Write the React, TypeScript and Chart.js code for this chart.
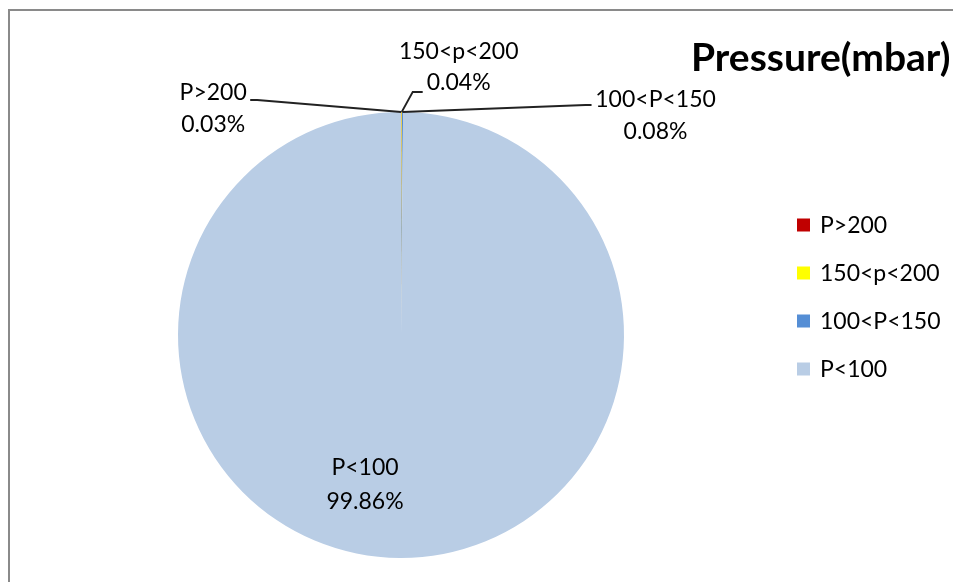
import React, { useEffect, useRef } from "react";
import { Chart, registerables } from "chart.js";

Chart.register(...registerables);

// ---- data ----
const categories = ["P>200", "150<p<200", "100<P<150", "P<100"];
const values = [0.03, 0.04, 0.08, 99.86];
const colors = ["#C00000", "#FFFF00", "#558ED5", "#B9CDE5"];
const titleText = "Pressure(mbar)";

// ---- layout / style (not data) ----
const FONT = "Lato, 'Open Sans', sans-serif";
const LABEL_SIZE = 23;
const TITLE_SIZE = 39;
const W = 953;
const H = 582;

// label placement relative to the slice anchor (outer edge at mid-angle) or pie centre
type LabelLayout = {
  ref: "edge" | "center";
  dx: number;
  dy1: number;
  dy2: number;
  leader?: [number, number][];
};
const labelLayouts: LabelLayout[] = [
  { ref: "edge", dx: -188, dy1: -19, dy2: 13, leader: [[-151, -12], [-144, -12]] },
  { ref: "edge", dx: 57, dy1: -60, dy2: -29, leader: [[21, -20], [11, -20]] },
  { ref: "edge", dx: 253, dy1: -12, dy2: 20, leader: [[189, -7], [183, -7]] },
  { ref: "center", dx: -36, dy1: 133, dy2: 167 },
];

const legendLayout = { x: 797, y0: 225, step: 48, box: 13, textX: 820 };
const titleLayout = { x: 691, y: 58 };

const overlayPlugin = {
  id: "excelOverlay",
  afterDraw(chart: any) {
    const ctx: CanvasRenderingContext2D = chart.ctx;
    const meta = chart.getDatasetMeta(0);
    ctx.save();

    // title
    ctx.fillStyle = "#000";
    ctx.font = `bold ${TITLE_SIZE}px ${FONT}`;
    ctx.textAlign = "left";
    ctx.textBaseline = "middle";
    ctx.fillText(titleText, titleLayout.x, titleLayout.y);

    // legend
    ctx.font = `${LABEL_SIZE}px ${FONT}`;
    categories.forEach((c, i) => {
      const cy = legendLayout.y0 + i * legendLayout.step;
      ctx.fillStyle = colors[i];
      ctx.fillRect(legendLayout.x, cy - legendLayout.box / 2, legendLayout.box, legendLayout.box);
      ctx.fillStyle = "#000";
      ctx.textAlign = "left";
      ctx.fillText(c, legendLayout.textX, cy + 1);
    });

    // data labels with leader lines
    meta.data.forEach((arc: any, i: number) => {
      const p = arc.getProps(["x", "y", "startAngle", "endAngle", "outerRadius"], true);
      const mid = (p.startAngle + p.endAngle) / 2;
      const lay = labelLayouts[i];
      let ax = p.x;
      let ay = p.y;
      if (lay.ref === "edge") {
        ax = p.x + Math.cos(mid) * p.outerRadius;
        ay = p.y + Math.sin(mid) * p.outerRadius;
      }
      if (lay.leader) {
        ctx.strokeStyle = "#222";
        ctx.lineWidth = 1.8;
        ctx.beginPath();
        ctx.moveTo(ax + lay.leader[0][0], ay + lay.leader[0][1]);
        for (let k = 1; k < lay.leader.length; k++) {
          ctx.lineTo(ax + lay.leader[k][0], ay + lay.leader[k][1]);
        }
        ctx.lineTo(ax, ay);
        ctx.stroke();
      }
      ctx.fillStyle = "#000";
      ctx.textAlign = "center";
      ctx.font = `${LABEL_SIZE}px ${FONT}`;
      ctx.fillText(categories[i], ax + lay.dx, ay + lay.dy1);
      ctx.fillText(values[i].toFixed(2) + "%", ax + lay.dx, ay + lay.dy2);
    });

    ctx.restore();
  },
};

export default function App() {
  const canvasRef = useRef<HTMLCanvasElement | null>(null);

  useEffect(() => {
    if (!canvasRef.current) return;
    const chart = new Chart(canvasRef.current, {
      type: "pie",
      data: {
        labels: categories,
        datasets: [
          {
            data: values,
            backgroundColor: colors,
            borderWidth: 0,
          },
        ],
      },
      options: {
        responsive: false,
        animation: false,
        layout: { padding: { left: 178, right: 329, top: 112, bottom: 24 } },
        plugins: {
          legend: { display: false },
          title: { display: false },
          tooltip: { enabled: false },
        },
      },
      plugins: [overlayPlugin],
    });
    return () => chart.destroy();
  }, []);

  return (
    <div style={{ position: "fixed", left: 0, top: 0, width: W, height: H, overflow: "hidden", background: "#fff" }}>
      <div
        style={{
          position: "absolute",
          left: 8,
          top: 9,
          width: 1000,
          height: 640,
          border: "2px solid #8a8a8a",
          boxSizing: "border-box",
        }}
      />
      <canvas
        ref={canvasRef}
        width={W}
        height={H}
        style={{ position: "absolute", left: 0, top: 0, width: W, height: H }}
      />
    </div>
  );
}
